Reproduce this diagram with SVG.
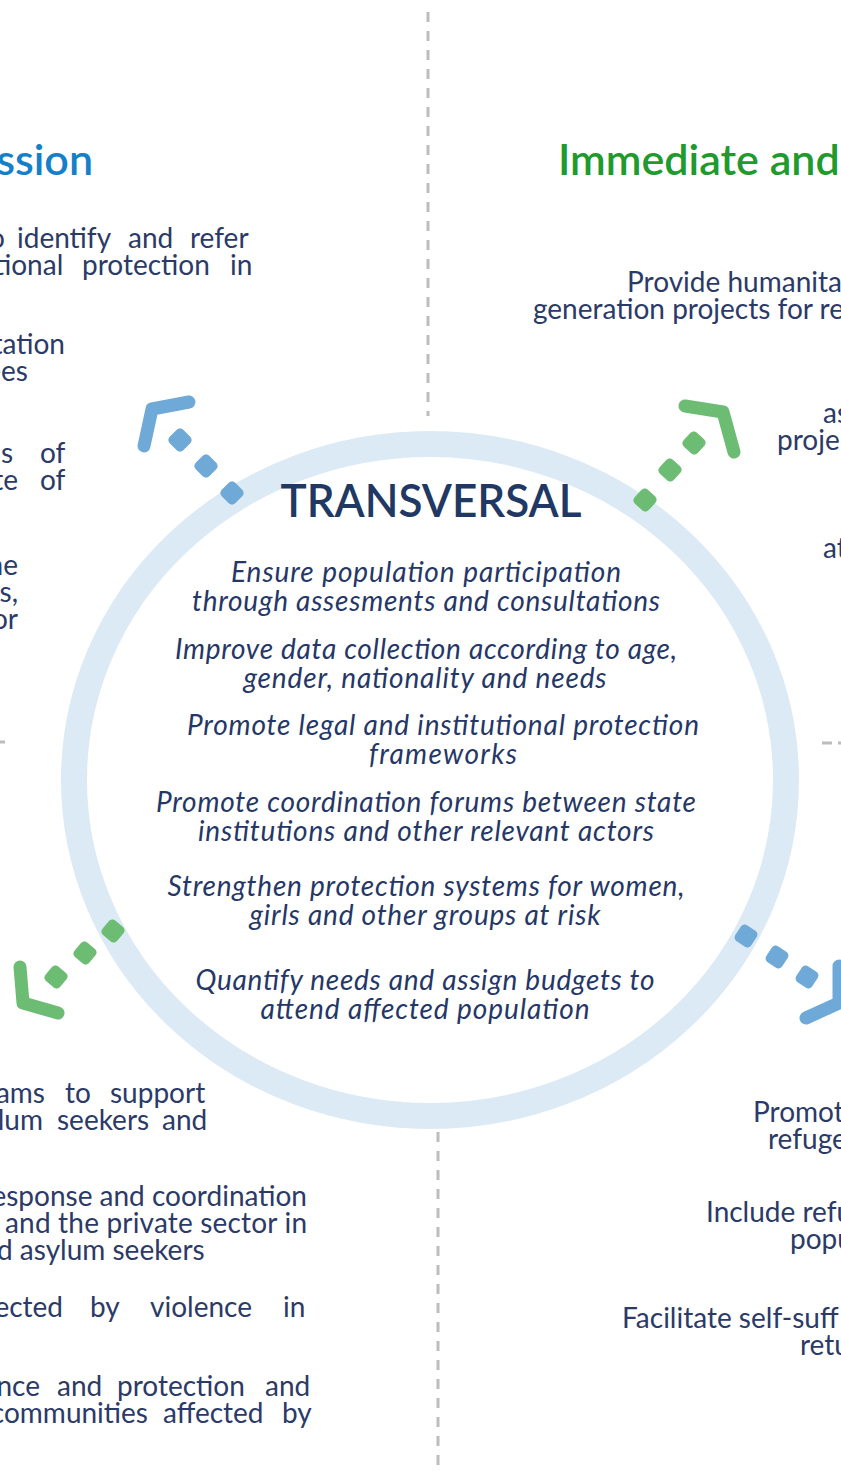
<svg xmlns="http://www.w3.org/2000/svg" width="841" height="1471" viewBox="0 0 841 1471">
<style>
text{font-family:Lato,"Liberation Sans",sans-serif}
.b{font-size:28px;fill:#2B3A67}
.e{text-anchor:end}
.it{font-size:28px;font-style:italic;fill:#253766;text-anchor:middle}
.tb{font-size:43px;font-weight:600;fill:#1580C8}
.tg{font-size:43px;font-weight:600;fill:#1F9A2D}
.tr{font-size:47px;font-weight:600;fill:#1F3864;text-anchor:middle}
.dash{stroke:#BDBDBD;stroke-width:3;stroke-dasharray:10 9;fill:none}
.chev{fill:none;stroke-width:13;stroke-linecap:round;stroke-linejoin:round}
.blue{fill:#6EA9D7;stroke:#6EA9D7}
.green{fill:#6DBC73;stroke:#6DBC73}
</style>
<defs>
<rect id="dot" x="-9" y="-9" width="18" height="18" rx="4" ry="4"/>
</defs>
<rect width="841" height="1471" fill="#FFFFFF"/>

<g id="guides">
<line class="dash" x1="428" y1="12" x2="428" y2="416"/>
<line class="dash" x1="438" y1="1132" x2="438" y2="1471"/>
<line class="dash" x1="-5" y1="742" x2="5" y2="742"/>
<line class="dash" x1="822" y1="743" x2="860" y2="743" style="stroke-dasharray:10 6"/>
</g>

<g id="transversal">
<ellipse cx="430" cy="780" rx="356" ry="336" fill="none" stroke="#DCEAF6" stroke-width="26"/>
<text class="tr" x="431" y="517" textLength="301" lengthAdjust="spacingAndGlyphs">TRANSVERSAL</text>
<text class="it" x="426" y="582" textLength="390">Ensure population participation</text>
<text class="it" x="426" y="611" textLength="468">through assesments and consultations</text>
<text class="it" x="426" y="659" textLength="502">Improve data collection according to age,</text>
<text class="it" x="425" y="688" textLength="363">gender, nationality and needs</text>
<text class="it" x="443" y="735" textLength="512">Promote legal and institutional protection</text>
<text class="it" x="443" y="764" textLength="148">frameworks</text>
<text class="it" x="426" y="812" textLength="540">Promote coordination forums between state</text>
<text class="it" x="426" y="841" textLength="456">institutions and other relevant actors</text>
<text class="it" x="426" y="896" textLength="517">Strengthen protection systems for women,</text>
<text class="it" x="425" y="925" textLength="351">girls and other groups at risk</text>
<text class="it" x="425" y="990" textLength="459">Quantify needs and assign budgets to</text>
<text class="it" x="425" y="1019" textLength="329">attend affected population</text>
</g>

<g id="left-top">
<text class="tb" x="93" y="175" text-anchor="end">ssion</text>
<text class="b"><tspan x="-11" y="248">o</tspan><tspan x="17">identify</tspan><tspan x="128">and</tspan><tspan x="190">refer</tspan></text>
<text class="b"><tspan x="-6" y="275">tional</tspan><tspan x="82">protection</tspan><tspan x="230">in</tspan></text>
<text class="b e" x="65" y="354">tation</text>
<text class="b e" x="28" y="381">ees</text>
<text class="b"><tspan x="13" y="463" text-anchor="end">s</tspan><tspan x="40" text-anchor="start">of</tspan></text>
<text class="b"><tspan x="18" y="490" text-anchor="end">te</tspan><tspan x="40" text-anchor="start">of</tspan></text>
<text class="b e" x="18" y="575">ne</text>
<text class="b e" x="18" y="602">s,</text>
<text class="b e" x="18" y="629">or</text>
</g>

<g id="right-top">
<text class="tg" x="558" y="175">Immediate and</text>
<text class="b" x="627" y="292">Provide humanita</text>
<text class="b" x="533" y="319">generation projects for re</text>
<text class="b" x="823" y="423">as</text>
<text class="b" x="777" y="450">proje</text>
<text class="b" x="823" y="558">at</text>
</g>

<g id="left-bottom">
<text class="b"><tspan x="45" y="1103" text-anchor="end">ams</tspan><tspan x="65">to</tspan><tspan x="110">support</tspan></text>
<text class="b"><tspan x="43" y="1130" text-anchor="end">lum</tspan><tspan x="57">seekers</tspan><tspan x="162">and</tspan></text>
<text class="b" x="307" y="1206" text-anchor="end">esponse and coordination</text>
<text class="b" x="5" y="1233" textLength="302">and the private sector in</text>
<text class="b" x="-3" y="1260">d asylum seekers</text>
<text class="b"><tspan x="63" y="1317" text-anchor="end">ected</tspan><tspan x="90">by</tspan><tspan x="150">violence</tspan><tspan x="283">in</tspan></text>
<text class="b"><tspan x="40" y="1396" text-anchor="end">nce</tspan><tspan x="57">and</tspan><tspan x="117">protection</tspan><tspan x="265">and</tspan></text>
<text class="b"><tspan x="148" y="1423" text-anchor="end">communities</tspan><tspan x="163">affected</tspan><tspan x="282">by</tspan></text>
</g>

<g id="right-bottom">
<text class="b" x="753" y="1122">Promot</text>
<text class="b" x="768" y="1149">refuge</text>
<text class="b" x="706" y="1222">Include refu</text>
<text class="b" x="790" y="1249">popu</text>
<text class="b" x="622" y="1328">Facilitate self-suff</text>
<text class="b" x="800" y="1355">retu</text>
</g>

<g id="connectors">
<g id="arrow-tl" class="blue">
<use href="#dot" transform="translate(180,440) rotate(45)"/>
<use href="#dot" transform="translate(206,466) rotate(45)"/>
<use href="#dot" transform="translate(232,493) rotate(45)"/>
<path class="chev blue" style="fill:none" d="M189,402 L152,409 L144,446"/>
</g>
<g id="arrow-tr" class="green">
<use href="#dot" transform="translate(694,443) rotate(42)"/>
<use href="#dot" transform="translate(670,470) rotate(42)"/>
<use href="#dot" transform="translate(645,500) rotate(42)"/>
<path class="chev green" style="fill:none" d="M685,406 L723,412 L734,452"/>
</g>
<g id="arrow-bl" class="green">
<use href="#dot" transform="translate(113,931) rotate(40)"/>
<use href="#dot" transform="translate(85,953) rotate(40)"/>
<use href="#dot" transform="translate(56,977) rotate(40)"/>
<path class="chev green" style="fill:none" d="M20,967 L23,1003 L58,1013"/>
</g>
<g id="arrow-br" class="blue">
<use href="#dot" transform="translate(746,936) rotate(33)"/>
<use href="#dot" transform="translate(777,957) rotate(33)"/>
<use href="#dot" transform="translate(807,977) rotate(33)"/>
<path class="chev blue" style="fill:none" d="M806,1018 L839,1003 L839,966"/>
</g>
</g>
</svg>
